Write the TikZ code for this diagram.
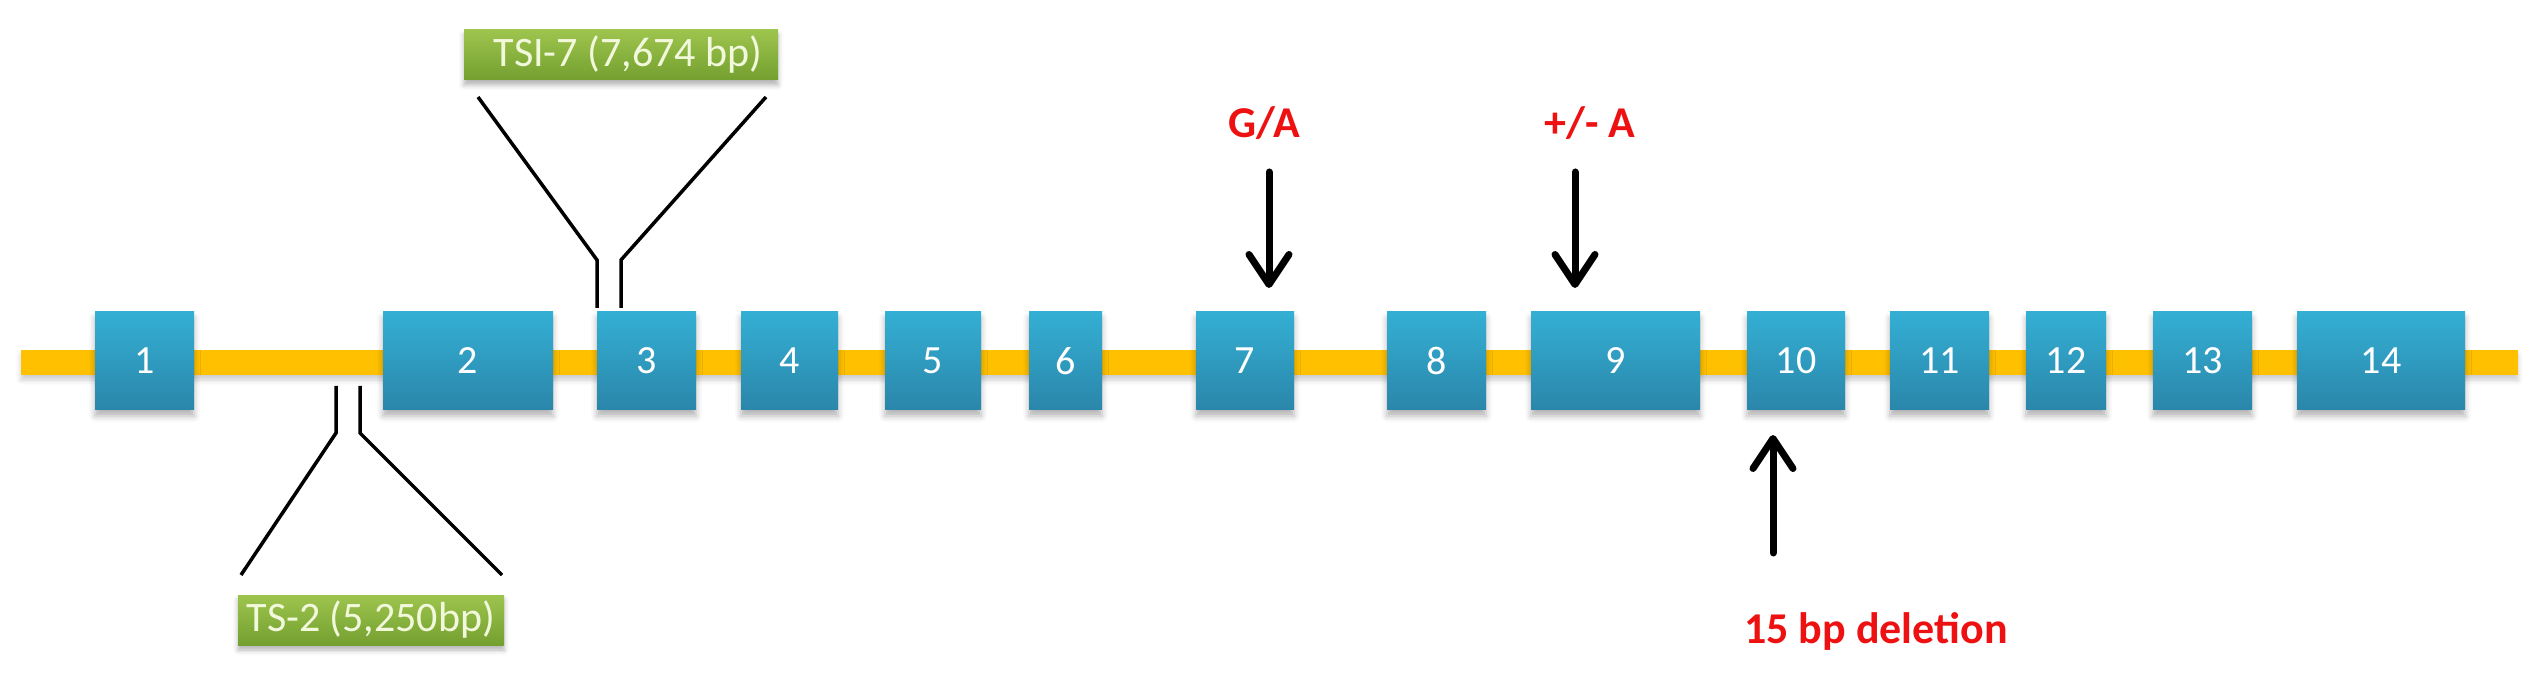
\documentclass[tikz,border=0pt]{standalone}
\usepackage{fontspec}
\setmainfont{Carlito}
\usetikzlibrary{arrows.meta,shadows.blur}
\definecolor{barc}{HTML}{FFC000}
\definecolor{extop}{HTML}{34AFD4}
\definecolor{exbot}{HTML}{2A86AA}
\definecolor{gtop}{HTML}{9DC44D}
\definecolor{gbot}{HTML}{74A030}
\definecolor{gtext}{HTML}{F2F8DC}
\definecolor{mut}{HTML}{EE1111}
\begin{document}
\begin{tikzpicture}[x=1pt,y=-1pt,
  exon/.style={rectangle, inner sep=0pt, minimum height=98pt, top color=extop, bottom color=exbot, draw=none,
    text=white, font=\fontsize{40}{48}\selectfont,
    blur shadow={shadow xshift=0pt, shadow yshift=-6pt, shadow blur radius=6pt, shadow opacity=30}},
  glabel/.style={rectangle, inner sep=0pt, minimum height=50pt, top color=gtop, bottom color=gbot, draw=none,
    text=gtext, font=\fontsize{42}{50}\selectfont,
    blur shadow={shadow xshift=0pt, shadow yshift=-5pt, shadow blur radius=5pt, shadow opacity=30}},
  mutlabel/.style={text=mut, font=\bfseries\fontsize{44}{52}\selectfont, inner sep=0pt, anchor=base},
  mutarrow/.style={line width=7pt, line cap=round, -{Straight Barb[length=30pt,width=40pt,line cap=round,line join=round]}},
  insline/.style={line width=3.5pt, black}]
\useasboundingbox (0,0) rectangle (2538,684);
% backbone
\fill[barc, blur shadow={shadow xshift=0pt, shadow yshift=-5pt, shadow blur radius=5pt, shadow opacity=20}] (21,350) rectangle (2518,375);
% exons
\node[exon, minimum width=99pt] (e1) at (144.5,361) {1};
\node[exon, minimum width=170pt] (e2) at (468,361) {2};
\node[exon, minimum width=99pt] (e3) at (646.5,361) {3};
\node[exon, minimum width=97pt] (e4) at (789.5,361) {4};
\node[exon, minimum width=96pt] (e5) at (933,361) {5};
\node[exon, minimum width=73pt] (e6) at (1065.5,361) {6};
\node[exon, minimum width=98pt] (e7) at (1245,361) {7};
\node[exon, minimum width=99pt] (e8) at (1436.5,361) {8};
\node[exon, minimum width=169pt] (e9) at (1615.5,361) {9};
\node[exon, minimum width=98pt] (e10) at (1796,361) {10};
\node[exon, minimum width=99pt] (e11) at (1939.5,361) {11};
\node[exon, minimum width=80pt] (e12) at (2066,361) {12};
\node[exon, minimum width=99pt] (e13) at (2202.5,361) {13};
\node[exon, minimum width=168pt] (e14) at (2381,361) {14};
% insertion labels
\node[glabel, minimum width=314pt] (tsi7) at (621,55) {\hspace{14pt}TSI-7 (7,674 bp)};
\node[glabel, minimum width=266pt] (ts2) at (371,620) {TS-2 (5,250bp)};
% TSI-7 insertion lines
\coordinate (t7l) at (478,97);
\coordinate (t7r) at (766,97);
\draw[insline] (t7l) -- (597,260) -- (597,308);
\draw[insline] (t7r) -- (621,260) -- (621,308);
% TS-2 insertion lines
\coordinate (t2l) at (241,575);
\coordinate (t2r) at (502,575);
\draw[insline] (t2l) -- (336,433) -- (336,386);
\draw[insline] (t2r) -- (360,433) -- (360,386);
% mutation labels and arrows
\node[mutlabel] (ga) at (1264,138) {G/A};
\node[mutlabel] (pma) at (1590,138) {+/- A};
\node[mutlabel] (del) at (1876,643) {15 bp deletion};
\coordinate (a7s) at (1269,172);
\coordinate (a7e) at (1269,288);
\coordinate (a9s) at (1575,172);
\coordinate (a9e) at (1575,288);
\coordinate (a10s) at (1773,553);
\coordinate (a10e) at (1773,435);
\draw[mutarrow] (a7s) -- (a7e);
\draw[mutarrow] (a9s) -- (a9e);
\draw[mutarrow] (a10s) -- (a10e);
\end{tikzpicture}
\end{document}
